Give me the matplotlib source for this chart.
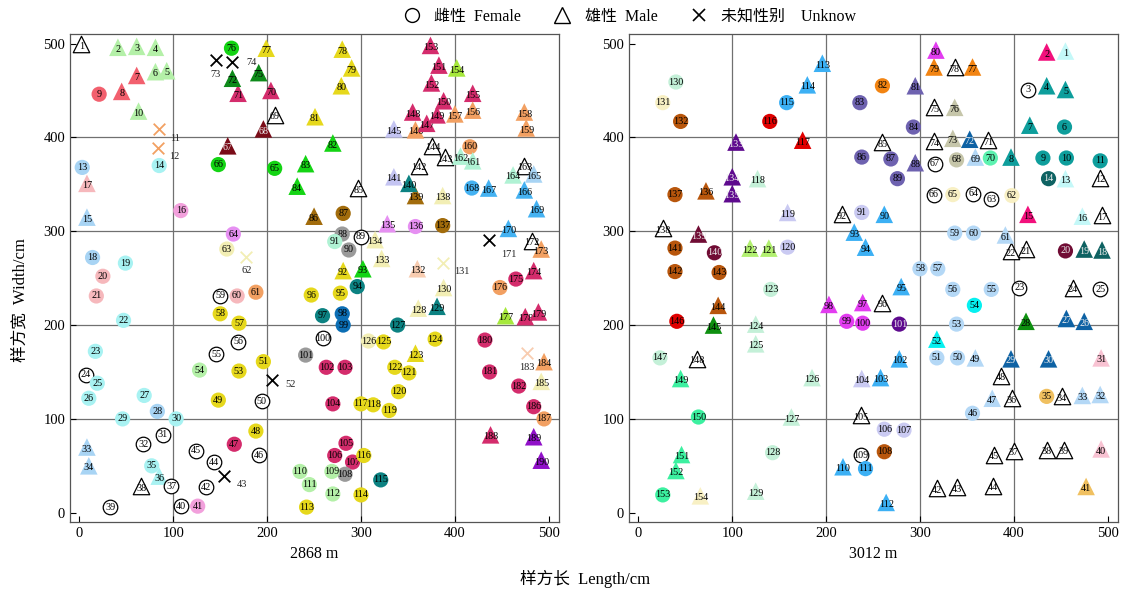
import matplotlib.pyplot as plt
from matplotlib.lines import Line2D

plt.rcParams['font.family'] = ['Liberation Serif', 'Noto Sans CJK SC']

# colour keys used by both plots
palette = {
    'open': 'white', 'black': 'black',
    'lg': '#b4f0a8', 'sal': '#f2606e', 'lc': '#a8f2f2', 'lb': '#a8d4f4',
    'lp': '#f6b8bc', 'pk': '#f2a0dc', 'gr': '#14d414', 'dg': '#0e8a1a',
    'dr': '#7a0c18', 'cr': '#d42c6c', 'ye': '#e6d81c', 'yg': '#a6e83c',
    'or': '#f2a062', 'po': '#f8ccb0', 'lav': '#c4c4f2', 'vi': '#e690f2',
    'te': '#0c8282', 'br': '#a26c0c', 'gy': '#9a9a9a', 'mi': '#b0f2d4',
    'ly': '#f2eeb4', 'sb': '#44b2f2', 'bl': '#0c6eb4', 'pu': '#9010c8',
    'sb2': '#3cb0f4', 'red': '#e00000', 'bo': '#b8560c', 'sl': '#6e62b0',
    'mg': '#e23cf0', 'or2': '#f28412', 'hp': '#f2107c', 'te2': '#0e9e9c',
    'dt': '#0e6262', 'kh': '#c6c6aa', 'db': '#0e62a4', 'lb2': '#b4d8f6',
    'cy': '#06f0f0', 'mg2': '#5cf2b0', 'ma': '#700c34', 'gr2': '#0e9010',
    'pu2': '#5e0a8e', 'lav2': '#cacaf2', 'yg2': '#b2f070', 'mint': '#c4f0d8',
    'sg': '#3cf0a0', 'ly2': '#f8f0c4', 'gd': '#f0c060', 'lp2': '#f8c2d2',
    'lc2': '#c4f8f8',
}
light_text = {'dr', 'ma', 'dt', 'pu2', 'db'}

# ---- 2868 m plot, individuals 1-190
left_x = [2, 41, 61, 81, 93, 81, 61, 45, 21, 63,
          85, 84, 3, 85, 8, 108, 8, 14, 49, 25,
          18, 47, 17, 7, 19, 10, 69, 83, 46, 103,
          89, 68, 8, 10, 77, 85, 98, 66, 33, 108,
          126, 135, 154, 143, 124, 191, 165, 188, 148, 194,
          196, 205, 170, 128, 146, 169, 170, 150, 150, 168,
          188, 178, 157, 164, 208, 148, 158, 196, 208, 204,
          169, 163, 145, 163, 191, 162, 199, 280, 290, 279,
          251, 270, 241, 232, 297, 250, 281, 280, 300, 287,
          272, 281, 302, 296, 278, 247, 259, 280, 281, 259,
          241, 263, 283, 270, 284, 272, 291, 283, 269, 235,
          245, 270, 242, 300, 321, 303, 300, 313, 330, 340,
          351, 336, 358, 379, 324, 308, 339, 361, 381, 388,
          387, 360, 322, 315, 328, 358, 387, 387, 358, 351,
          335, 362, 389, 376, 335, 358, 370, 355, 381, 388,
          383, 375, 374, 402, 419, 419, 400, 474, 476, 416,
          419, 406, 474, 462, 484, 474, 436, 418, 487, 457,
          436, 482, 492, 484, 465, 448, 454, 475, 489, 432,
          437, 468, 477, 495, 492, 484, 495, 438, 484, 492]
left_y = [499, 496, 497, 496, 471, 470, 466, 449, 446, 428,
          409, 389, 368, 370, 315, 322, 351, 272, 266, 252,
          231, 205, 172, 147, 138, 122, 125, 108, 100, 100,
          83, 73, 70, 50, 50, 39, 28, 28, 6, 7,
          7, 27, 39, 54, 66, 61, 73, 87, 120, 119,
          161, 141, 151, 152, 169, 182, 202, 212, 231, 231,
          235, 273, 281, 297, 367, 371, 391, 409, 424, 450,
          447, 463, 482, 480, 469, 495, 495, 494, 474, 455,
          422, 394, 372, 348, 346, 316, 319, 297, 294, 280,
          289, 258, 260, 241, 234, 232, 210, 212, 200, 186,
          168, 155, 155, 116, 74, 61, 54, 41, 44, 44,
          30, 20, 6, 19, 35, 61, 116, 115, 109, 129,
          149, 155, 170, 185, 182, 183, 200, 218, 220, 240,
          266, 260, 271, 291, 308, 305, 306, 338, 338, 351,
          358, 370, 379, 391, 409, 408, 415, 427, 424, 439,
          477, 458, 498, 474, 447, 429, 425, 427, 410, 390,
          375, 380, 370, 360, 361, 344, 346, 346, 324, 303,
          291, 290, 281, 258, 249, 240, 210, 209, 214, 184,
          150, 135, 170, 161, 140, 113, 100, 83, 81, 56]
left_shape = ('^^^^^^^^o^' 'xxoo^o^ooo' 'oooooooooo' 'oo^^o^o^oo'
              'ooxoooooo' 'o' 'oxoooooooo' 'oxoooo^^^^' '^^xx^o^^^^'
              '^^^^^^oooo' 'o^^ooooooo' 'oooooooooo' 'oooooooooo'
              'oo^oooo^^^' 'x^^^^oo^^^' '^^^^^^^^^^' '^^^^^^^^^o'
              '^^^^^^^o^^' 'x^^^oo^^^o' 'oox^^oo^^^')
left_color = ['open', 'lg', 'lg', 'lg', 'lg', 'lg', 'sal', 'sal', 'sal', 'lg',
              'or', 'or', 'lb', 'lc', 'lb', 'pk', 'lp', 'lb', 'lc', 'lp',
              'lp', 'lc', 'lc', 'open', 'lc', 'lc', 'lc', 'lb', 'lc', 'lc',
              'open', 'open', 'lb', 'lb', 'lc', 'lc', 'open', 'open', 'open', 'open',
              'pk', 'open', 'black', 'open', 'open', 'open', 'cr', 'ye', 'ye', 'open',
              'ye', 'black', 'ye', 'lg', 'open', 'open', 'ye', 'ye', 'open', 'lp',
              'or', 'ly', 'ly', 'vi', 'gr', 'gr', 'dr', 'dr', 'open', 'cr',
              'cr', 'dg', 'black', 'black', 'dg', 'gr', 'ye', 'ye', 'ye', 'ye',
              'ye', 'gr', 'gr', 'gr', 'open', 'br', 'br', 'gy', 'open', 'gy',
              'mi', 'ye', 'gr', 'te', 'ye', 'ye', 'te', 'bl', 'bl', 'open',
              'gy', 'cr', 'cr', 'cr', 'cr', 'cr', 'cr', 'gy', 'lg', 'lg',
              'lg', 'lg', 'ye', 'ye', 'te', 'ye', 'ye', 'ye', 'ye', 'ye',
              'ye', 'ye', 'ye', 'ye', 'ye', 'ly', 'te', 'ly', 'te', 'ly',
              'ly', 'po', 'ly', 'ly', 'vi', 'vi', 'br', 'ly', 'br', 'te',
              'lav', 'open', 'open', 'open', 'lav', 'or', 'cr', 'cr', 'cr', 'cr',
              'cr', 'cr', 'cr', 'yg', 'cr', 'or', 'or', 'or', 'or', 'or',
              'mi', 'mi', 'open', 'mi', 'lb', 'sb', 'sb', 'sb', 'sb', 'sb',
              'black', 'open', 'or', 'cr', 'cr', 'or', 'yg', 'cr', 'cr', 'cr',
              'cr', 'cr', 'po', 'or', 'ly', 'cr', 'or', 'cr', 'pu', 'pu']
# where the number goes beside a cross (points)
left_cross_text = {11: (8, -7), 12: (8, -6), 43: (9, -6), 52: (10, -3),
                   62: (0, -10), 73: (0, -10), 74: (10, 0), 132: (0, -10),
                   171: (9, -11), 183: (0, -10)}

# ---- 3012 m plot, individuals 1-154
right_x = [455, 435, 415, 435, 455, 454, 417, 397, 431, 456,
           492, 492, 455, 437, 415, 473, 494, 494, 475, 455,
           413, 397, 406, 463, 492, 475, 456, 413, 397, 437,
           493, 492, 473, 451, 435, 398, 400, 435, 453, 493,
           477, 318, 339, 378, 379, 356, 377, 386, 359, 340,
           318, 318, 339, 358, 376, 335, 319, 300, 337, 357,
           391, 398, 376, 357, 335, 315, 316, 339, 359, 375,
           373, 353, 335, 315, 315, 337, 356, 337, 315, 317,
           295, 260, 236, 293, 260, 238, 269, 295, 276, 262,
           238, 217, 230, 242, 280, 260, 239, 203, 222, 239,
           278, 278, 258, 238, 237, 262, 283, 262, 237, 218,
           242, 264, 196, 180, 158, 140, 175, 127, 159, 159,
           139, 119, 141, 125, 125, 185, 163, 143, 125, 40,
           26, 45, 104, 100, 100, 72, 39, 26, 64, 81,
           39, 39, 86, 85, 80, 41, 23, 62, 45, 64,
           46, 40, 26, 66]
right_y = [492, 491, 451, 455, 451, 411, 413, 379, 378, 378,
           375, 357, 356, 356, 318, 316, 317, 280, 281, 279,
           281, 279, 240, 240, 238, 204, 207, 204, 164, 164,
           165, 126, 125, 124, 124, 122, 66, 67, 67, 68,
           28, 26, 27, 29, 62, 106, 122, 146, 165, 165,
           165, 185, 201, 221, 238, 238, 260, 260, 298, 298,
           296, 338, 334, 340, 339, 339, 372, 376, 379, 378,
           397, 398, 399, 396, 432, 432, 475, 475, 475, 493,
           455, 455, 437, 411, 395, 379, 377, 373, 356, 318,
           320, 318, 299, 283, 241, 224, 224, 222, 204, 202,
           201, 164, 144, 143, 104, 89, 88, 65, 61, 49,
           47, 11, 479, 456, 437, 417, 397, 356, 320, 283,
           282, 282, 238, 201, 180, 144, 102, 64, 23, 459,
           437, 417, 395, 358, 340, 343, 339, 303, 297, 277,
           282, 257, 256, 221, 200, 204, 165, 164, 143, 102,
           62, 45, 19, 18]
right_shape = ('^^o^^o^^oo' 'o^^o^^^^^o' '^^o^o^^^^^' '^^^^o^^^^^'
               '^^^^^o^^^o' 'o^oooooooo' '^ooooooo^o' '^^^^^^^^^^'
               '^ooo^oo^o^' 'o^^^^^^^oo' 'o^^^^oooo^' 'o^^^oo^^^o'
               '^^o^^^^o^o' 'oo^^^^o^^o' 'ooo^^oo^^o' '^^o^')
right_color = ['lc2', 'hp', 'open', 'te2', 'te2', 'te2', 'te2', 'te2', 'te2', 'te2',
               'te2', 'open', 'lc2', 'dt', 'hp', 'lc2', 'open', 'dt', 'dt', 'ma',
               'open', 'open', 'open', 'open', 'open', 'db', 'db', 'gr2', 'db', 'db',
               'lp2', 'lb2', 'lb2', 'open', 'gd', 'open', 'open', 'open', 'open', 'lp2',
               'gd', 'open', 'open', 'open', 'open', 'lb2', 'lb2', 'open', 'lb2', 'lb2',
               'lb2', 'cy', 'lb2', 'cy', 'lb2', 'lb2', 'lb2', 'lb2', 'lb2', 'lb2',
               'lb2', 'ly2', 'open', 'open', 'ly2', 'open', 'open', 'kh', 'lb2', 'mg2',
               'open', 'db', 'kh', 'open', 'open', 'kh', 'or2', 'open', 'or2', 'mg',
               'sl', 'or2', 'sl', 'sl', 'open', 'sl', 'sl', 'sl', 'sl', 'sb2',
               'lav2', 'open', 'sb2', 'sb2', 'sb2', 'open', 'mg', 'mg', 'mg', 'mg',
               'pu2', 'sb2', 'sb2', 'lav2', 'open', 'lav2', 'lav2', 'bo', 'open', 'sb2',
               'sb2', 'sb2', 'sb2', 'sb2', 'sb2', 'red', 'red', 'mint', 'lav2', 'lav2',
               'yg2', 'yg2', 'mint', 'mint', 'mint', 'mint', 'mint', 'mint', 'mint', 'mint',
               'ly2', 'bo', 'pu2', 'pu2', 'pu2', 'bo', 'bo', 'open', 'ma', 'ma',
               'bo', 'bo', 'bo', 'bo', 'gr2', 'red', 'mint', 'open', 'sg', 'sg',
               'sg', 'sg', 'sg', 'ly2']

ticks = [0, 100, 200, 300, 400, 500]


def draw_plot(ax, xs, ys, shapes, colors, cross_text, title):
    ax.set_xlim(-10, 511)
    ax.set_ylim(-10, 510)
    for v in ticks[1:-1]:
        ax.axvline(v, color='#707070', lw=0.9, zorder=0)
        ax.axhline(v, color='#707070', lw=0.9, zorder=0)
    for i, (x, y, s, c) in enumerate(zip(xs, ys, shapes, colors)):
        n = i + 1
        z = 2 + i * 0.01
        if s == 'x':
            ax.scatter(x, y, marker='x', s=70, color=palette[c], lw=1.3, zorder=z)
            dx, dy = cross_text.get(n, (8, -6))
            ax.annotate(str(n), (x, y), xytext=(dx, dy), textcoords='offset points',
                        ha='center' if dx == 0 else 'left', va='center',
                        fontsize=7.5, color='#222222', zorder=z)
            continue
        if c == 'open':
            ax.scatter(x, y, marker=s, s=140 if s == '^' else 110, facecolor='white',
                       edgecolor='black', lw=0.9, zorder=z)
        else:
            ax.scatter(x, y, marker=s, s=160 if s == '^' else 120,
                       facecolor=palette[c], edgecolor='none', zorder=z)
        tc = '#eeeeee' if c in light_text else 'black'
        ax.annotate(str(n), (x, y), xytext=(0, -1.5 if s == '^' else 0),
                    textcoords='offset points', ha='center', va='center',
                    fontsize=7.3, color=tc, zorder=z + 0.005)
    ax.set_xticks(ticks)
    ax.set_yticks(ticks)
    ax.tick_params(direction='in', labelsize=10.5, length=4, width=0.8, colors='black')
    for sp in ax.spines.values():
        sp.set_color('#555555')
        sp.set_linewidth(0.9)
    ax.set_xlabel(title, fontsize=11.5, labelpad=4)


fig = plt.figure(figsize=(11.26, 5.94), dpi=100)
ax1 = fig.add_axes([0.0622, 0.121, 0.4343, 0.8215])
ax2 = fig.add_axes([0.5586, 0.121, 0.4343, 0.8215])
draw_plot(ax1, left_x, left_y, left_shape, left_color, left_cross_text, '2868 m')
draw_plot(ax2, right_x, right_y, right_shape, right_color, {}, '3012 m')

handles = [
    Line2D([], [], ls='none', marker='o', ms=10, mfc='white', mec='black', mew=1.0),
    Line2D([], [], ls='none', marker='^', ms=11, mfc='white', mec='black', mew=1.0),
    Line2D([], [], ls='none', marker='x', ms=9, color='black', mew=1.2),
]
fig.legend(handles, ['雌性  Female', '雄性  Male', '未知性别    Unknow'],
           loc='center', bbox_to_anchor=(0.556, 0.972), ncol=3, frameon=False,
           fontsize=11.5, handletextpad=0.4, columnspacing=1.6)
fig.text(0.52, 0.025, '样方长  Length/cm', ha='center', va='center', fontsize=12)
fig.text(0.018, 0.495, '样方宽  Width/cm', ha='center', va='center', rotation=90,
         fontsize=12)

fig.savefig('out.png', dpi=100)
